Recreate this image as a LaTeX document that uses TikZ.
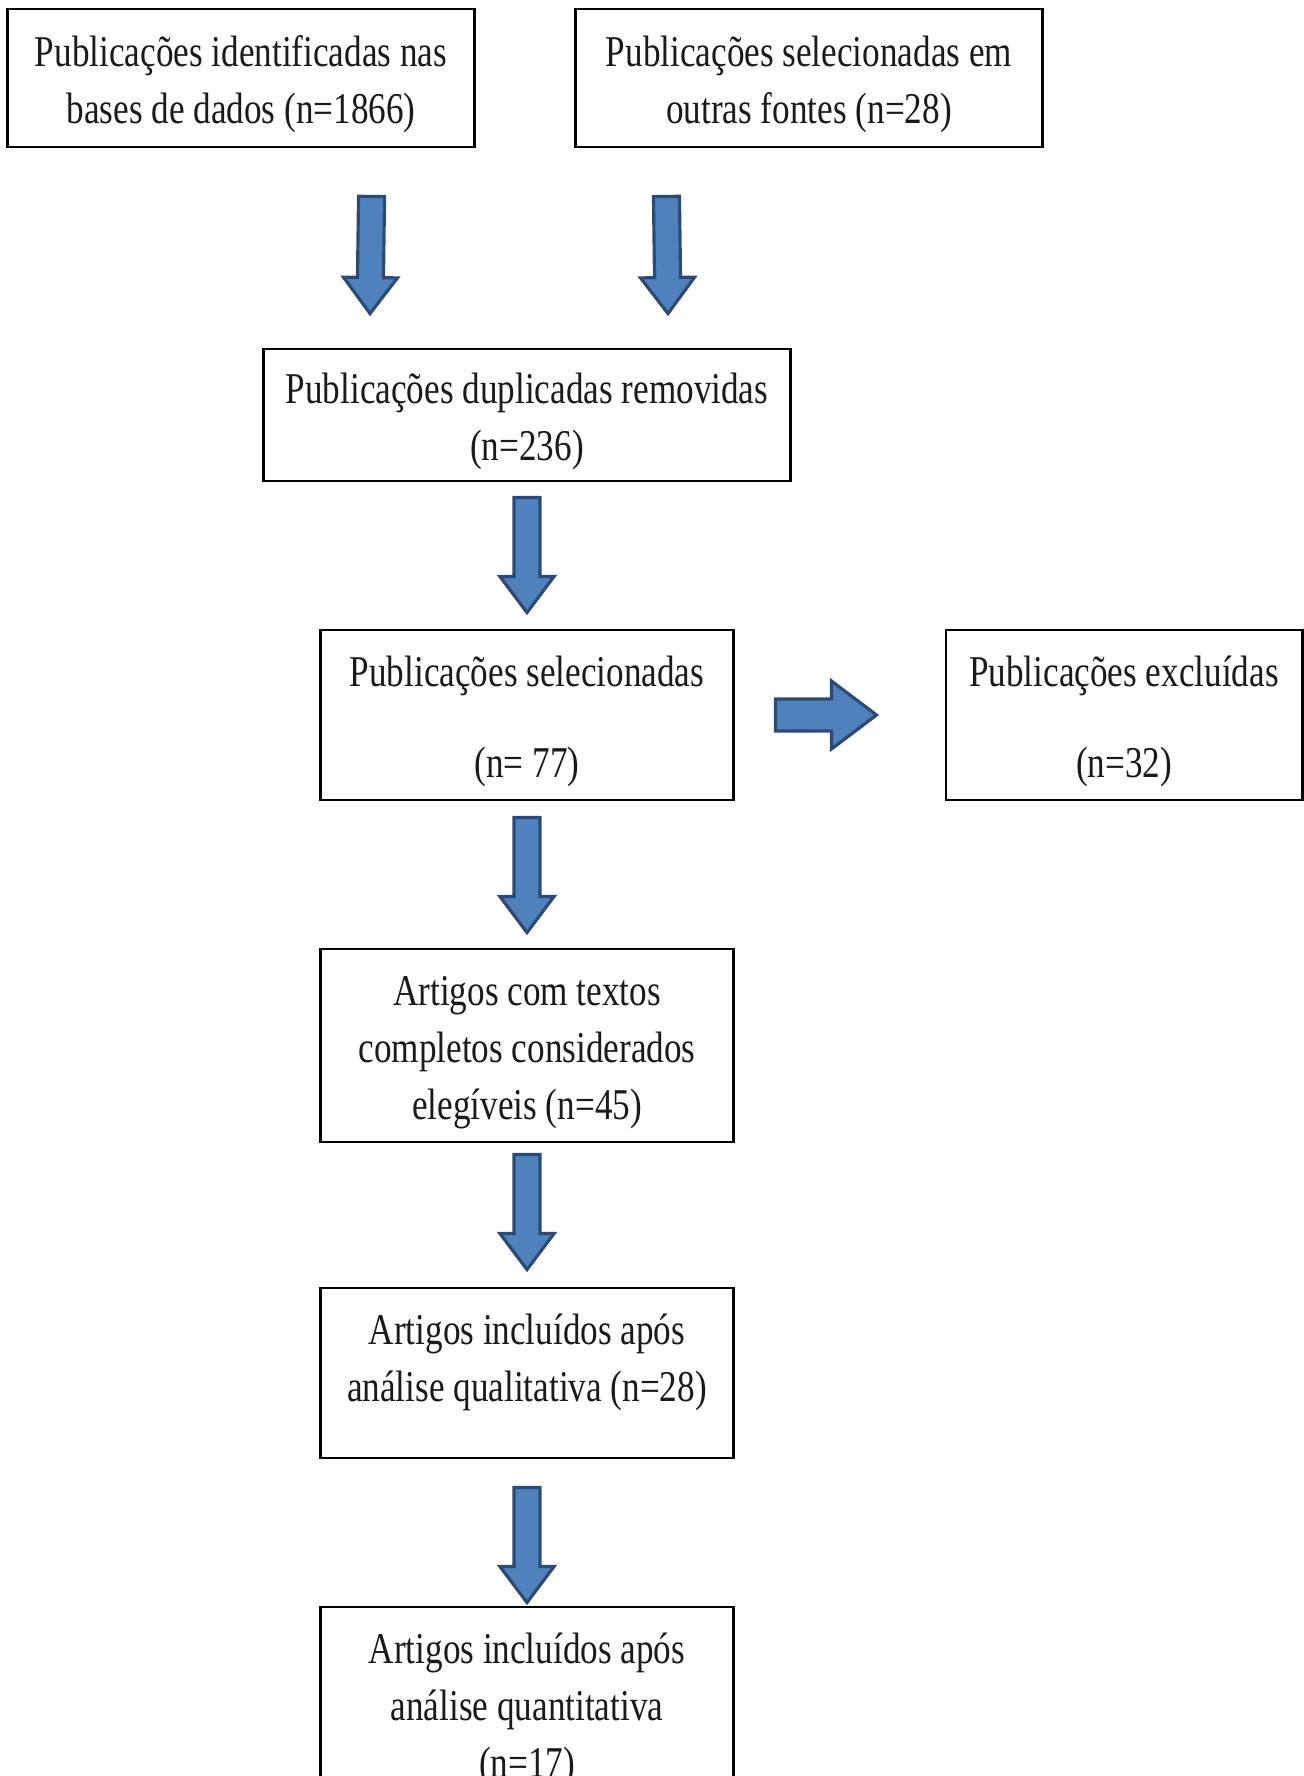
\documentclass[tikz,border=0pt]{standalone}
\usepackage{fontspec}
\setmainfont{Liberation Serif}[FakeStretch=0.8]
\usepackage{tikz}
\usetikzlibrary{calc}
\usepackage{xcolor}
\definecolor{ArrowBlue}{HTML}{4F81BD}
\definecolor{ArrowNavy}{HTML}{2C4A74}
\definecolor{Black90}{HTML}{1A1A1A}
\newcommand{\boxstrut}{\rule{0pt}{0.44cm}}

\begin{document}
\begin{tikzpicture}[
    x=0.01cm, y=0.01cm,
    every node/.style={font=\fontsize{12.5}{16.2}\selectfont},
    box/.style={draw=black, line width=0.8pt, align=center, inner sep=0pt, text=Black90},
    blockarrow/.style n args={3}{fill=ArrowBlue, draw=ArrowNavy, line width=0.9pt,
        to path={let \p1=(\tikztostart), \p2=(\tikztotarget) in
            ($(\p1)!#1!90:(\p2)$) -- ($(\p2)!#3!(\p1)!#1!90:(\p2)$)
            -- ($(\p2)!#3!(\p1)!#2!90:(\p2)$) -- (\p2)
            -- ($(\p2)!#3!(\p1)!#2!-90:(\p2)$) -- ($(\p2)!#3!(\p1)!#1!-90:(\p2)$)
            -- ($(\p1)!#1!-90:(\p2)$) -- cycle}},
    downarrow/.style={blockarrow={0.13cm}{0.27cm}{0.36cm}},
    rightarrow/.style={blockarrow={0.16cm}{0.34cm}{0.45cm}}
]

\useasboundingbox (0,0) rectangle (1304,-1776);
\clip (0,0) rectangle (1304,-1776);

% === Sources ===
\node[box, minimum width=4.66cm, minimum height=1.38cm] (ident) at (241,-78)
    {\boxstrut Publicações identificadas nas\\bases de dados (n=1866)};
\node[box, minimum width=4.66cm, minimum height=1.38cm] (outras) at (809,-78)
    {\boxstrut Publicações selecionadas em\\outras fontes (n=28)};

% === Screening ===
\node[box, minimum width=5.26cm, minimum height=1.32cm] (dupl) at (527,-415)
    {\boxstrut Publicações duplicadas removidas\\(n=236)};
\node[box, minimum width=4.12cm, minimum height=1.70cm] (selec) at (527,-715)
    {\boxstrut Publicações selecionadas\\[0.34cm](n= 77)};
\node[box, minimum width=3.56cm, minimum height=1.70cm] (exclu) at (1124,-715)
    {\boxstrut Publicações excluídas\\[0.34cm](n=32)};

% === Eligibility and inclusion ===
\node[box, minimum width=4.12cm, minimum height=1.93cm] (eleg) at (527,-1045.5)
    {\boxstrut Artigos com textos\\completos considerados\\elegíveis (n=45)};
\node[box, minimum width=4.12cm, minimum height=1.70cm] (quali) at (527,-1373)
    {Artigos incluídos após\\análise qualitativa (n=28)\rule[-0.3cm]{0pt}{0pt}};
\node[box, minimum width=4.12cm, minimum height=1.93cm] (quanti) at (527,-1703.5)
    {\boxstrut Artigos incluídos após\\análise quantitativa\\(n=17)};

% === Block arrows ===
\draw[downarrow] ([shift={(-104,-48)}]ident.south east) to ([shift={(-157,34)}]dupl.north);
\draw[downarrow] ([shift={(92,-48)}]outras.south west) to ([shift={(141,34)}]dupl.north);
\draw[downarrow] ([shift={(0,-15)}]dupl.south) to ([shift={(0,16)}]selec.north);
\draw[rightarrow] ([shift={(41,0)}]selec.east) to ([shift={(-68,0)}]exclu.west);
\draw[downarrow] ([shift={(0,-16)}]selec.south) to ([shift={(0,15)}]eleg.north);
\draw[downarrow] ([shift={(0,-11)}]eleg.south) to ([shift={(0,17)}]quali.north);
\draw[downarrow] ([shift={(0,-28)}]quali.south) to ([shift={(0,3)}]quanti.north);

\end{tikzpicture}
\end{document}
